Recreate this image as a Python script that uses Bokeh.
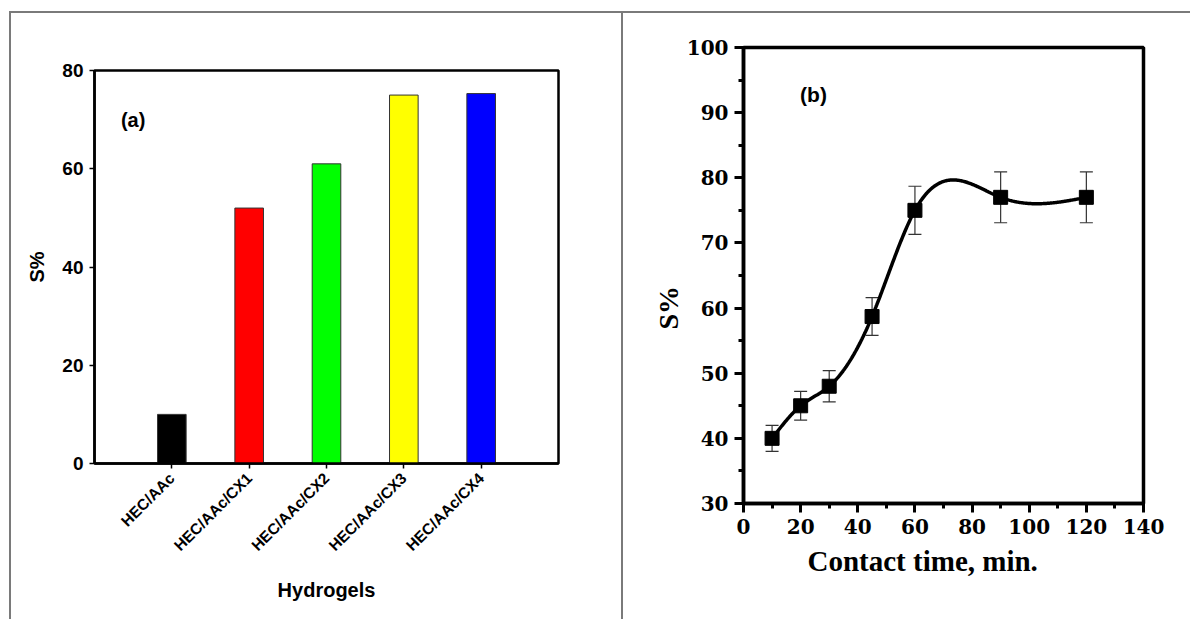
import numpy as np
from math import pi

from bokeh.plotting import figure
from bokeh.layouts import row
from bokeh.models import (Range1d, FixedTicker, SingleIntervalTicker, Whisker, TeeHead,
                          ColumnDataSource, Label, Title)
from bokeh.embed import file_html
from bokeh.resources import INLINE

# ---- panel (a): swelling of the hydrogel series ----
hydrogels = ["HEC/AAc", "HEC/AAc/CX1", "HEC/AAc/CX2", "HEC/AAc/CX3", "HEC/AAc/CX4"]
swelling = [10, 52, 61, 75, 75.3]
bar_colors = ["#000000", "#ff0000", "#00ff00", "#ffff00", "#0000ff"]
a_yticks = [0, 20, 40, 60, 80]

# ---- panel (b): swelling versus contact time ----
contact_time = [10, 20, 30, 45, 60, 90, 120]
s_percent = [40, 45, 48, 58.7, 75, 77, 77]
s_error = [2.0, 2.2, 2.4, 2.9, 3.7, 3.9, 3.9]

SANS = "Liberation Sans"
SERIF = "Liberation Serif"
SERIF_TICKS = "DejaVu Serif"
RULE = "linear-gradient(#7a7a7a, #7a7a7a)"


def natural_spline(xk, yk, xs):
    """Natural cubic spline through the knots (xk, yk), evaluated at xs."""
    xk = np.asarray(xk, float)
    yk = np.asarray(yk, float)
    n = len(xk)
    h = np.diff(xk)
    A = np.zeros((n, n))
    r = np.zeros(n)
    A[0, 0] = A[-1, -1] = 1.0
    for i in range(1, n - 1):
        A[i, i - 1] = h[i - 1]
        A[i, i] = 2 * (h[i - 1] + h[i])
        A[i, i + 1] = h[i]
        r[i] = 6 * ((yk[i + 1] - yk[i]) / h[i] - (yk[i] - yk[i - 1]) / h[i - 1])
    M = np.linalg.solve(A, r)
    idx = np.clip(np.searchsorted(xk, xs) - 1, 0, n - 2)
    x0, x1 = xk[idx], xk[idx + 1]
    hh = x1 - x0
    a = (x1 - xs) / hh
    b = (xs - x0) / hh
    return a * yk[idx] + b * yk[idx + 1] + ((a ** 3 - a) * M[idx] + (b ** 3 - b) * M[idx + 1]) * hh ** 2 / 6


# ================= panel (a) =================
positions = list(range(1, len(hydrogels) + 1))
pa = figure(width=623, height=619, output_backend="svg", toolbar_location=None,
            x_range=Range1d(0, len(hydrogels) + 1), y_range=Range1d(0, 80),
            min_border_left=94, min_border_right=65, min_border_top=70, min_border_bottom=156)
pa.frame_align = False
pa.background_fill_color = "white"
pa.border_fill_alpha = 0
pa.grid.visible = False
pa.outline_line_color = "black"
pa.outline_line_width = 2.5
pa.outline_line_alpha = 1.0
# thin grey rules framing the panel (top, left and the divider on the right)
pa.styles = {
    "background-color": "white",
    "background-image": f"{RULE}, {RULE}, {RULE}",
    "background-size": "100% 2px, 2px 100%, 2px 100%",
    "background-position": "10px 11px, 9px 11px, 621px 11px",
    "background-repeat": "no-repeat",
}

src_a = ColumnDataSource(dict(x=positions, top=swelling, color=bar_colors, name=hydrogels))
pa.vbar(x="x", top="top", width=0.37, fill_color="color", line_color="#333333",
        line_width=1, source=src_a)

for ax in (pa.xaxis[0], pa.yaxis[0]):
    ax.axis_line_width = 2.5
    ax.axis_line_color = "black"
    ax.major_tick_in = 0
    ax.major_tick_out = 5
    ax.major_tick_line_width = 1.5
    ax.minor_tick_line_color = None
    ax.major_label_text_font = SANS
    ax.major_label_text_font_style = "bold"
    ax.major_label_text_color = "black"
    ax.axis_label_text_font = SANS
    ax.axis_label_text_font_style = "bold"
    ax.axis_label_text_color = "black"

pa.yaxis.ticker = FixedTicker(ticks=a_yticks)
pa.yaxis.major_label_text_font_size = "19px"
pa.yaxis.major_label_standoff = 6
pa.yaxis.axis_label = "S%"
pa.yaxis.axis_label_text_font_size = "20px"
pa.yaxis.axis_label_standoff = 11

pa.xaxis.ticker = FixedTicker(ticks=positions)
pa.xaxis.major_label_overrides = {p: n for p, n in zip(positions, hydrogels)}
pa.xaxis.major_label_orientation = pi / 4
pa.xaxis.major_label_text_font_size = "15.5px"
pa.xaxis.major_label_standoff = 7
pa.xaxis.axis_label = "Hydrogels"
pa.xaxis.axis_label_text_font_size = "20px"
pa.xaxis.axis_label_standoff = 16

pa.add_layout(Label(x=0.5, y=70, text="(a)", text_font=SANS, text_font_style="bold",
                    text_font_size="20px", text_color="black",
                    text_align="center", text_baseline="middle"))

# ================= panel (b) =================
pb = figure(width=567, height=619, output_backend="svg", toolbar_location=None,
            x_range=Range1d(0, 140), y_range=Range1d(30, 100),
            min_border_left=120, min_border_right=47, min_border_top=47, min_border_bottom=116)
pb.frame_align = False
pb.background_fill_color = "white"
pb.border_fill_alpha = 0
pb.grid.visible = False
pb.outline_line_color = "black"
pb.outline_line_width = 3.5
pb.outline_line_alpha = 1.0
pb.styles = {
    "background-color": "white",
    "background-image": RULE,
    "background-size": "100% 2px",
    "background-position": "0px 11px",
    "background-repeat": "no-repeat",
}

err_src = ColumnDataSource(dict(
    x=contact_time,
    upper=[v + e for v, e in zip(s_percent, s_error)],
    lower=[v - e for v, e in zip(s_percent, s_error)],
))
xs = np.linspace(contact_time[0], contact_time[-1], 400)
pb.line(xs, natural_spline(contact_time, s_percent, xs), line_color="black", line_width=3.5)
pb.add_layout(Whisker(source=err_src, base="x", upper="upper", lower="lower",
                      line_color="#333333", line_width=1.2,
                      upper_head=TeeHead(size=13, line_color="#333333", line_width=1.2),
                      lower_head=TeeHead(size=13, line_color="#333333", line_width=1.2)))
pb.scatter(contact_time, s_percent, marker="square", size=14, fill_color="black",
           line_color="black")

for ax in (pb.xaxis[0], pb.yaxis[0]):
    ax.axis_line_width = 3.5
    ax.axis_line_color = "black"
    ax.major_tick_in = 0
    ax.major_tick_out = 9
    ax.major_tick_line_width = 3
    ax.minor_tick_in = 0
    ax.minor_tick_out = 5
    ax.minor_tick_line_width = 3
    ax.major_label_text_font = SERIF_TICKS
    ax.major_label_text_font_style = "bold"
    ax.major_label_text_font_size = "20px"
    ax.major_label_text_color = "black"
    ax.major_label_standoff = 6

pb.xaxis.ticker = SingleIntervalTicker(interval=20, num_minor_ticks=2)
pb.yaxis.ticker = SingleIntervalTicker(interval=10, num_minor_ticks=2)

# axis captions of panel (b), placed a little off the axis centres
pb.add_layout(Title(text="Contact time, min.", align="left", offset=64, standoff=13,
                    text_font=SERIF, text_font_style="bold", text_font_size="29px",
                    text_color="black"), "below")
pb.add_layout(Title(text="S%", align="left", offset=174, standoff=0,
                    text_font=SERIF, text_font_style="bold", text_font_size="28px",
                    text_color="black"), "left")
pb.add_layout(Label(x=24.5, y=92.8, text="(b)", text_font=SANS, text_font_style="bold",
                    text_font_size="21px", text_color="black",
                    text_align="center", text_baseline="middle"))

layout = row(pa, pb, spacing=0)

with open("out.html", "w") as f:
    f.write(file_html(layout, INLINE))
